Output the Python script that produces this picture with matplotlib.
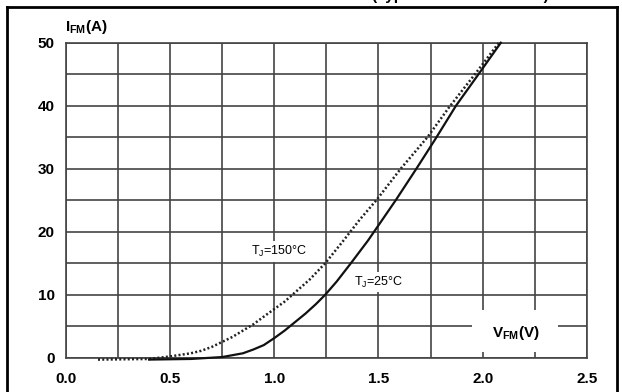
import matplotlib
matplotlib.use("Agg")
import matplotlib.pyplot as plt
from matplotlib.patches import Rectangle
from matplotlib.lines import Line2D

plt.rcParams['font.family'] = ['Liberation Sans', 'DejaVu Sans']
plt.rcParams['mathtext.fontset'] = 'custom'
plt.rcParams['mathtext.rm'] = 'Liberation Sans'
plt.rcParams['mathtext.bf'] = 'Liberation Sans:bold'

# forward voltage (V) / forward current (A)
v_150 = [0.155, 0.40, 0.50, 0.60, 0.65, 0.70, 0.75, 0.80, 0.85, 0.90, 0.97, 1.05,
         1.17, 1.245, 1.33, 1.41, 1.49, 1.607, 1.735, 1.84, 1.963, 2.078]
i_150 = [-0.3, -0.2, 0.2, 0.7, 1.1, 1.7, 2.5, 3.3, 4.3, 5.3, 7.0, 8.9,
         12.4, 15.0, 18.5, 21.9, 25.0, 30.0, 35.0, 39.8, 45.0, 50.0]

v_25 = [0.40, 0.60, 0.75, 0.85, 0.90, 0.95, 1.00, 1.05, 1.15, 1.20, 1.245, 1.30,
        1.368, 1.45, 1.50, 1.583, 1.682, 1.771, 1.872, 1.98, 2.087]
i_25 = [-0.3, -0.2, 0.1, 0.7, 1.3, 2.0, 3.1, 4.3, 7.0, 8.5, 10.0, 12.1,
        15.0, 18.6, 21.0, 25.0, 30.0, 34.6, 40.0, 45.0, 50.0]

x_ticks = [0.0, 0.5, 1.0, 1.5, 2.0, 2.5]
y_ticks = [0, 10, 20, 30, 40, 50]

fig = plt.figure(figsize=(6.22, 3.92), dpi=100)
ax = fig.add_axes([0.1056, 0.0875, 0.838, 0.8035])

ax.set_xlim(0, 2.5)
ax.set_ylim(0, 50)
ax.set_xticks(x_ticks)
ax.set_xticks([0.25, 0.75, 1.25, 1.75, 2.25], minor=True)
ax.set_yticks(y_ticks)
ax.set_yticks([5, 15, 25, 35, 45], minor=True)
ax.set_xticklabels([f"{v:.1f}" for v in x_ticks], fontsize=11, fontweight='bold')
ax.set_yticklabels([str(v) for v in y_ticks], fontsize=11, fontweight='bold')
ax.tick_params(which='both', length=0)
ax.tick_params(axis='x', pad=10)
ax.tick_params(axis='y', pad=8)

ax.set_axisbelow(True)
ax.grid(which='both', color='#444444', lw=1.2)
for s in ax.spines.values():
    s.set_color('#444444')
    s.set_linewidth(1.2)

ax.plot(v_150, i_150, color='#222222', lw=1.8, ls=(0, (0.8, 0.9)), clip_on=False, zorder=3)
ax.plot(v_25, i_25, color='#111111', lw=1.6, clip_on=False, zorder=3)

# white patch behind the x-axis label
ax.add_patch(Rectangle((1.95, 0.9), 0.41, 6.7, facecolor='white', edgecolor='none', zorder=2))
ax.text(2.16, 3.9, r"$\mathbf{V_{FM}(V)}$", fontsize=11, ha='center', va='center', zorder=4)

ax.text(0.89, 16.9, r"T$_\mathrm{J}$=150°C", fontsize=9, ha='left', va='center', zorder=4,
        bbox=dict(facecolor='white', edgecolor='none', pad=2))
ax.text(1.385, 12.0, r"T$_\mathrm{J}$=25°C", fontsize=9, ha='left', va='center', zorder=4,
        bbox=dict(facecolor='white', edgecolor='none', pad=2))

fig.text(0.105, 0.932, r"$\mathbf{I_{FM}(A)}$", fontsize=11, ha='left', va='center')

# outer frame and cut-off title of the datasheet figure
fig.add_artist(Line2D([0.011, 0.011], [0.0, 0.982], color='black', lw=2))
fig.add_artist(Line2D([0.992, 0.992], [0.0, 0.982], color='black', lw=2))
fig.add_artist(Line2D([0.011, 0.992], [0.982, 0.982], color='black', lw=2))
fig.text(0.598, 1.0, "(Typical Characteristics)", fontsize=11, fontweight='bold',
         ha='left', va='baseline')

fig.savefig("out.png", dpi=100)
